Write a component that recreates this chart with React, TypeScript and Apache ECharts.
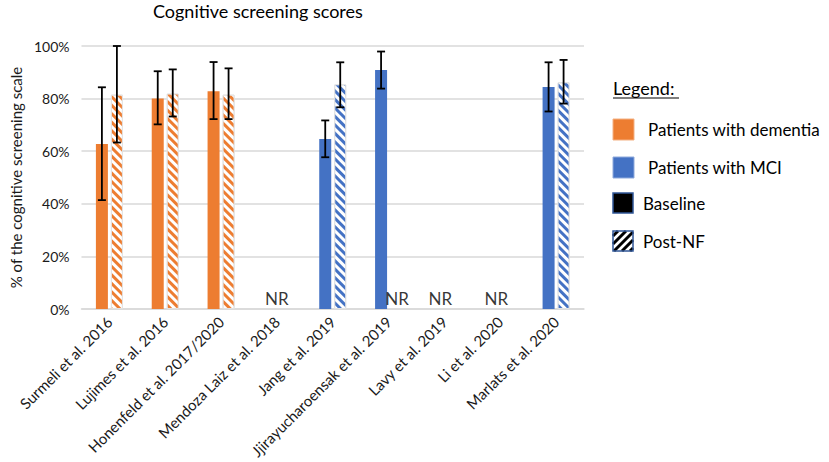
import React, { useEffect, useRef } from "react";
import * as echarts from "echarts";

const categories = [
  "Surmeli et al. 2016",
  "Lujimes et al. 2016",
  "Honenfeld et al. 2017/2020",
  "Mendoza Laiz et al. 2018",
  "Jang et al. 2019",
  "Jjirayucharoensak et al. 2019",
  "Lavy et al. 2019",
  "Li et al. 2020",
  "Marlats et al. 2020",
];
const groups = ["dementia", "dementia", "dementia", "dementia", "MCI", "MCI", "MCI", "MCI", "MCI"];
const baseline = [62.7, 80.0, 82.8, null, 64.6, 90.9, null, null, 84.4];
const baselineLow = [41.4, 70.2, 72.2, null, 57.7, 83.8, null, null, 75.1];
const baselineHigh = [84.3, 90.4, 93.9, null, 71.7, 97.9, null, null, 93.8];
const postNF = [81.5, 81.9, 81.5, null, 85.4, null, null, null, 86.2];
const postLow = [63.3, 73.2, 72.2, null, 76.7, null, null, null, 78.1];
const postHigh = [100, 91.1, 91.5, null, 93.8, null, null, null, 94.7];
const nrCategories = [3, 5, 6, 7];
const yTicks = [0, 20, 40, 60, 80, 100];
const legendItems = ["Patients with dementia", "Patients with MCI", "Baseline", "Post-NF"];

const FONT = "Lato";
const COLORS: Record<string, string> = { dementia: "#ED7D31", MCI: "#4472C4" };
const HALF = 7.5;

function hatchLines(x0: number, y0: number, s: number) {
  const out: any[] = [];
  for (let c = 5; c < 2 * s; c += 8) {
    const u1 = Math.max(0, c - s);
    const u2 = Math.min(s, c);
    out.push({
      type: "line",
      shape: { x1: x0 + u1, y1: y0 + c - u1, x2: x0 + u2, y2: y0 + c - u2 },
      style: { stroke: "#000", lineWidth: 3 },
      silent: true,
    });
  }
  return out;
}

export default function App() {
  const ref = useRef<HTMLDivElement>(null);
  useEffect(() => {
    if (!ref.current) return;
    const chart = echarts.init(ref.current, null, { renderer: "svg" });

    const baseData = baseline.map((v, i) =>
      v == null ? null : { value: v, itemStyle: { color: COLORS[groups[i]] } }
    );
    const postData = postNF.map((v, i) =>
      v == null
        ? null
        : {
            value: v,
            itemStyle: {
              color: "#fff",
              borderColor: "#e3e3e3",
              borderWidth: 1,
              decal: {
                symbol: "rect",
                symbolSize: 1,
                color: COLORS[groups[i]],
                dashArrayX: [1, 0],
                dashArrayY: [2.5, 2.5],
                rotation: Math.PI / 4,
              },
            },
          }
    );
    const errData: number[][] = [];
    categories.forEach((_, i) => {
      if (baselineLow[i] != null) errData.push([i, baselineLow[i] as number, baselineHigh[i] as number, -1]);
      if (postLow[i] != null) errData.push([i, postLow[i] as number, postHigh[i] as number, 1]);
    });
    const nrData = nrCategories.map((i) => ({
      value: [i, 0],
      label: { offset: [baseline[i] != null ? HALF + 1 : i > 5 ? -4 : 0, 0] },
    }));

    const lx = 613;
    const graphics: any[] = [
      { type: "text", left: 153, top: 2, style: { text: "Cognitive screening scores", font: `18px ${FONT}`, fill: "#000" } },
      { type: "text", x: lx, y: 79, style: { text: "Legend:", font: `18px ${FONT}`, fill: "#000" } },
      { type: "line", shape: { x1: lx, y1: 98, x2: lx + 66, y2: 98 }, style: { stroke: "#000", lineWidth: 1.2 } },
      { type: "rect", shape: { x: lx, y: 119, width: 21, height: 21 }, style: { fill: COLORS.dementia, stroke: "#F4B183", lineWidth: 1 } },
      { type: "text", x: 648, y: 129, style: { text: legendItems[0], font: `17px ${FONT}`, fill: "#000", verticalAlign: "middle" } },
      { type: "rect", shape: { x: lx, y: 157, width: 21, height: 21 }, style: { fill: COLORS.MCI, stroke: "#8FAADC", lineWidth: 1 } },
      { type: "text", x: 648, y: 167, style: { text: legendItems[1], font: `17px ${FONT}`, fill: "#000", verticalAlign: "middle" } },
      { type: "rect", shape: { x: lx, y: 193, width: 20, height: 20 }, style: { fill: "#000", stroke: "#2F5597", lineWidth: 1.5 } },
      { type: "text", x: 643, y: 203, style: { text: legendItems[2], font: `17px ${FONT}`, fill: "#000", verticalAlign: "middle" } },
      { type: "rect", shape: { x: lx, y: 231, width: 20, height: 20 }, style: { fill: "#fff", stroke: "none" } },
      ...hatchLines(lx, 231, 20),
      { type: "rect", shape: { x: lx, y: 231, width: 20, height: 20 }, style: { fill: "none", stroke: "#2F5597", lineWidth: 1.5 } },
      { type: "text", x: 643, y: 241, style: { text: legendItems[3], font: `17px ${FONT}`, fill: "#000", verticalAlign: "middle" } },
    ];

    chart.setOption({
      animation: false,
      backgroundColor: "#fff",
      grid: { left: 74, right: 245, top: 46, bottom: 153 },
      xAxis: {
        type: "category",
        data: categories,
        axisLine: { lineStyle: { color: "#d9d9d9", width: 1.5 } },
        axisTick: { show: false },
        axisLabel: { interval: 0, rotate: 45, fontFamily: FONT, fontSize: 15, color: "#1a1a1a", margin: 10 },
      },
      yAxis: {
        type: "value",
        min: yTicks[0],
        max: yTicks[yTicks.length - 1],
        interval: 20,
        name: "% of the cognitive screening scale",
        nameLocation: "middle",
        nameGap: 52,
        nameTextStyle: { fontFamily: FONT, fontSize: 15, color: "#1a1a1a" },
        axisLabel: { formatter: "{value}%", fontFamily: FONT, fontSize: 14, color: "#1a1a1a", margin: 12 },
        splitLine: { lineStyle: { color: "#d9d9d9", width: 1.5 } },
        axisLine: { show: false },
        axisTick: { show: false },
      },
      series: [
        { name: "Baseline", type: "bar", data: baseData, barWidth: 12, barGap: "25%" },
        { name: "Post-NF", type: "bar", data: postData, barWidth: 12, barGap: "25%" },
        {
          type: "custom",
          data: errData,
          z: 5,
          renderItem: (params: any, api: any) => {
            const i = api.value(0);
            const lo = api.coord([i, api.value(1)]);
            const hi = api.coord([i, api.value(2)]);
            const x = lo[0] + api.value(3) * HALF;
            const cap = 4;
            const st = { stroke: "#000", lineWidth: 1.8 };
            return {
              type: "group",
              children: [
                { type: "line", shape: { x1: x, y1: lo[1], x2: x, y2: hi[1] }, style: st },
                { type: "line", shape: { x1: x - cap, y1: hi[1], x2: x + cap, y2: hi[1] }, style: st },
                { type: "line", shape: { x1: x - cap, y1: lo[1], x2: x + cap, y2: lo[1] }, style: st },
              ],
            };
          },
        },
        {
          type: "scatter",
          data: nrData,
          symbolSize: 0,
          label: { show: true, position: "top", distance: 2, formatter: "NR", fontFamily: FONT, fontSize: 17, color: "#000" },
        },
      ],
      graphic: graphics,
    });
    return () => chart.dispose();
  }, []);
  return <div ref={ref} style={{ position: "fixed", left: 0, top: 0, width: 829, height: 462 }} />;
}
